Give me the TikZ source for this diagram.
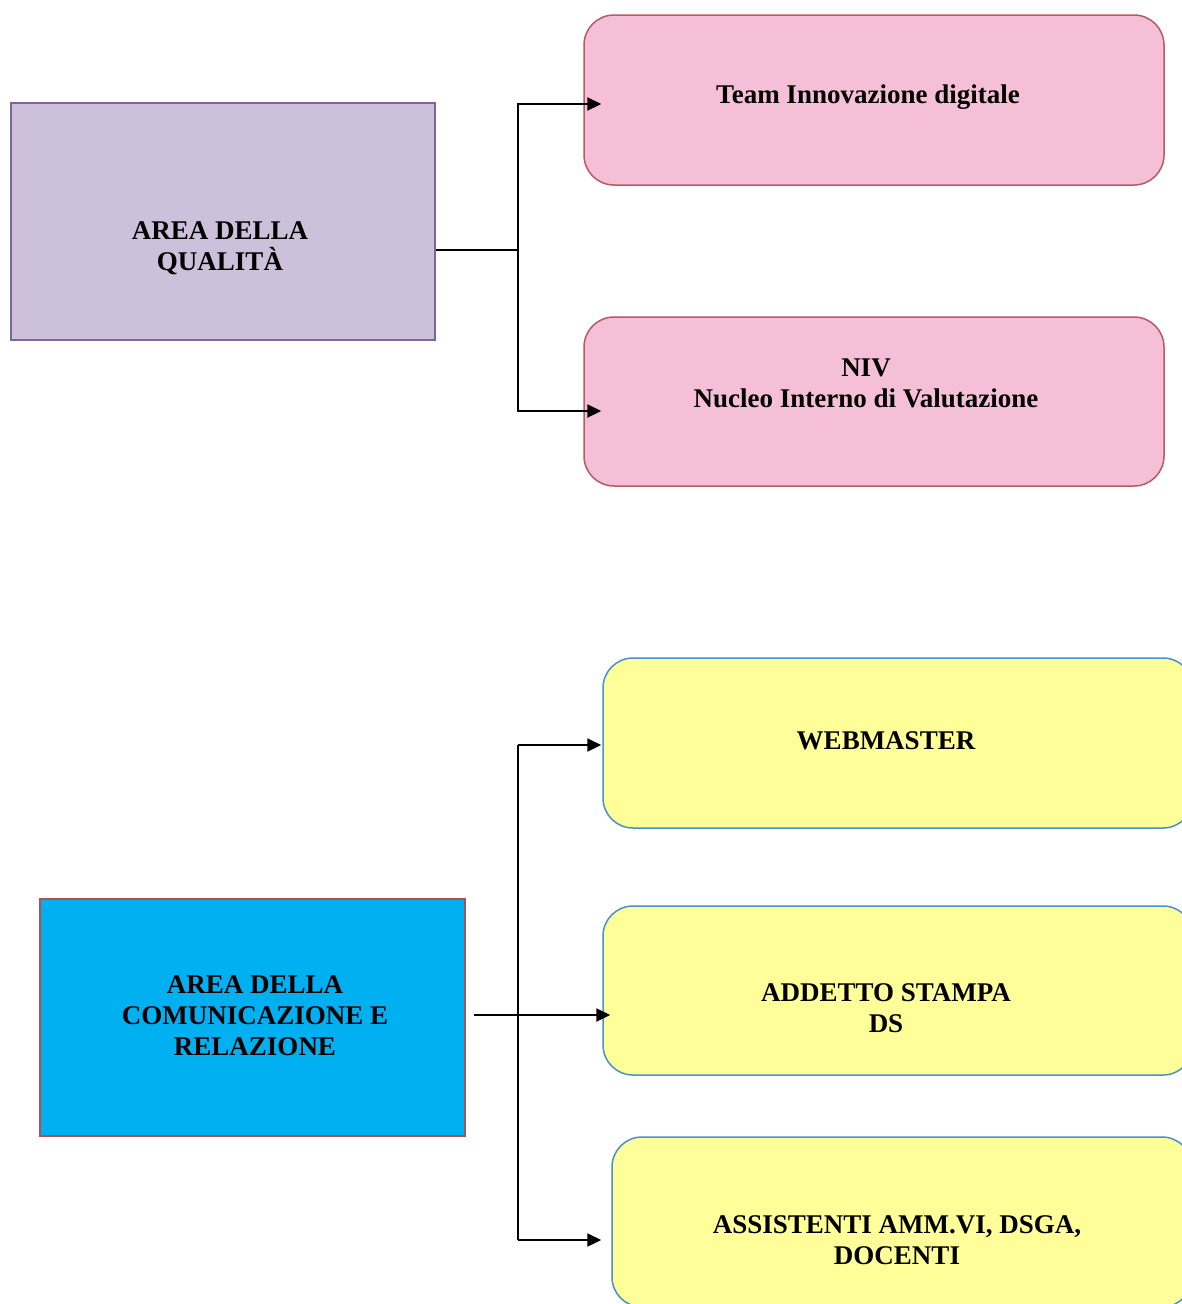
\documentclass[tikz,border=0pt]{standalone}
\usepackage{fontspec}
\setmainfont{Liberation Serif}
\usetikzlibrary{arrows.meta}
\definecolor{qfill}{HTML}{CCC0DA}
\definecolor{qdraw}{HTML}{7F6497}
\definecolor{pfill}{HTML}{F5BFD8}
\definecolor{pdraw}{HTML}{B85A62}
\definecolor{yfill}{HTML}{FFFF99}
\definecolor{ydraw}{HTML}{4A90CC}
\definecolor{bfill}{HTML}{00B0F0}
\definecolor{bdraw}{HTML}{B0504D}
\tikzset{
  sqbox/.style={draw, line width=1.5pt, rectangle, inner sep=0pt},
  rbox/.style={draw, line width=1.5pt, rectangle, rounded corners=30pt, inner sep=0pt},
  lbl/.style={font=\fontsize{27}{31}\selectfont\bfseries, align=center, inner sep=0pt},
  conn/.style={line width=2.2pt, black},
  arr/.style={conn, -{Triangle[length=14pt,width=13pt]}},
}
\begin{document}
\begin{tikzpicture}[x=1pt,y=-1pt]
\clip (0,0) rectangle (1182,1304);
\fill[white] (0,0) rectangle (1182,1304);
% top group
\node[sqbox, fill=qfill, draw=qdraw, minimum width=424pt, minimum height=237pt] (Q) at (223,221.5) {};
\node[rbox, fill=pfill, draw=pdraw, minimum width=580pt, minimum height=170pt] (T) at (874,100) {};
\node[rbox, fill=pfill, draw=pdraw, minimum width=580pt, minimum height=169pt] (N) at (874,401.5) {};
\node[lbl] (Ql) at (220,248) {AREA DELLA\\QUALITÀ};
\node[lbl] (Tl) at (868,97) {Team Innovazione digitale};
\node[lbl] (Nl) at (866,383) {NIV\\Nucleo Interno di Valutazione};
\coordinate (j1) at (518,250);
\draw[conn] (Q.east |- j1) -- (j1);
\draw[arr] (j1) |- ([xshift=18pt,yshift=-4pt]T.west);
\draw[arr] (j1) |- ([xshift=18pt,yshift=-9.5pt]N.west);
% bottom group
\node[sqbox, fill=bfill, draw=bdraw, minimum width=425pt, minimum height=237pt] (C) at (252.5,1017.5) {};
\node[rbox, fill=yfill, draw=ydraw, minimum width=590pt, minimum height=170pt] (W) at (898,743) {};
\node[rbox, fill=yfill, draw=ydraw, minimum width=590pt, minimum height=169pt] (A) at (898,990.5) {};
\node[rbox, fill=yfill, draw=ydraw, minimum width=580pt, minimum height=170pt] (S) at (902,1222) {};
\node[lbl] (Cl) at (255,1016) {AREA DELLA\\COMUNICAZIONE E\\RELAZIONE};
\node[lbl] (Wl) at (886,741) {WEBMASTER};
\node[lbl] (Al) at (886,1008) {ADDETTO STAMPA\\DS};
\node[lbl] (Sl) at (897,1240) {ASSISTENTI AMM.VI, DSGA,\\DOCENTI};
\coordinate (j2) at (518,1015);
\coordinate (j2top) at (518,745);
\coordinate (j2bot) at (518,1240);
\draw[arr] ([xshift=8pt]C.east |- j2) -- ([xshift=8pt]A.west |- j2);
\draw[conn] (j2top) -- (j2bot);
\draw[arr] (j2top) -- ([xshift=-1pt]W.west |- j2top);
\draw[arr] (j2bot) -- ([xshift=-10pt]S.west |- j2bot);
\end{tikzpicture}
\end{document}
